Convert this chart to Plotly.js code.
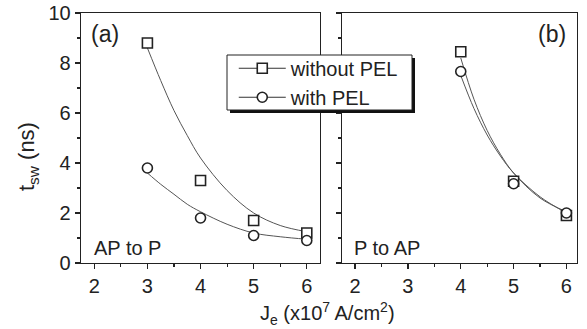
<!DOCTYPE html>
<html><head><meta charset="utf-8">
<script src="https://cdn.plot.ly/plotly-3.0.1.min.js"></script>
<style>html,body{margin:0;padding:0;background:#fff}#chart{width:587px;height:329px}</style>
</head><body><div id="chart"></div>
<script>
// (a) AP to P
const Ja = [3, 4, 5, 6];
const aWithout = [8.8, 3.3, 1.7, 1.2];
const aWith = [3.8, 1.8, 1.1, 0.9];
// fitted curves
const fitXa = [3, 3.25, 3.5, 3.75, 4, 4.5, 5, 5.5, 6];
const fitAWithout = [8.6, 7.3, 6.1, 5.1, 4.2, 2.9, 2.0, 1.5, 1.25];
const fitAWith = [3.6, 3.15, 2.75, 2.35, 2.05, 1.55, 1.2, 1.05, 0.95];
// (b) P to AP
const Jb = [4, 5, 6];
const bWithout = [8.45, 3.27, 1.9];
const bWith = [7.66, 3.17, 2.0];
const fitXb = [4, 4.25, 4.5, 4.75, 5, 5.5, 6];
const fitBWithout = [8.2, 6.55, 5.3, 4.35, 3.6, 2.6, 2.05];
const fitBWith = [7.5, 6.18, 5.12, 4.28, 3.6, 2.65, 2.0];
const legendNames = ['without PEL', 'with PEL'];

const lineC = '#555';
const mk = (sym) => ({symbol: sym, size: 10, color: 'white', line: {color: '#222', width: 1.6}});
const fit = (x, y, xa, ya) => ({x, y, xaxis: xa, yaxis: ya, mode: 'lines', line: {color: lineC, width: 1, shape: 'spline'}, showlegend: false, hoverinfo: 'skip'});
const pts = (x, y, sym, xa, ya) => ({x, y, xaxis: xa, yaxis: ya, mode: 'markers', marker: mk(sym), showlegend: false});

const data = [
  fit(fitXa, fitAWithout, 'x', 'y'),
  fit(fitXa, fitAWith, 'x', 'y'),
  fit(fitXb, fitBWithout, 'x2', 'y2'),
  fit(fitXb, fitBWith, 'x2', 'y2'),
  pts(Ja, aWithout, 'square', 'x', 'y'),
  pts(Ja, aWith, 'circle', 'x', 'y'),
  pts(Jb, bWithout, 'square', 'x2', 'y2'),
  pts(Jb, bWith, 'circle', 'x2', 'y2'),
  {x: [null], y: [null], mode: 'lines+markers', name: legendNames[0], marker: mk('square'), line: {color: '#333', width: 1}},
  {x: [null], y: [null], mode: 'lines+markers', name: legendNames[1], marker: mk('circle'), line: {color: '#333', width: 1}}
];

const tickFont = {family: 'Liberation Sans, Arial, sans-serif', size: 20, color: '#222'};
const xBase = {
  range: [1.75, 6.25], dtick: 1, tick0: 0, ticks: 'outside', ticklen: 5, tickwidth: 1.3, tickcolor: '#222',
  showline: true, linecolor: '#222', linewidth: 1.3, mirror: true, showgrid: false, zeroline: false,
  tickfont: tickFont, anchor: 'y',
  minor: {dtick: 0.5, ticks: 'outside', ticklen: 3, tickwidth: 1.2, tickcolor: '#222', showgrid: false}
};
const yBase = {
  range: [0, 10], dtick: 2, tick0: 0, ticks: 'outside', ticklen: 5, tickwidth: 1.3, tickcolor: '#222',
  showline: true, linecolor: '#222', linewidth: 1.3, mirror: true, showgrid: false, zeroline: false,
  tickfont: tickFont,
  minor: {dtick: 1, ticks: 'outside', ticklen: 3, tickwidth: 1.2, tickcolor: '#222', showgrid: false}
};

const annFont = {family: 'Liberation Sans, Arial, sans-serif', size: 20, color: '#222'};
const layout = {
  width: 587, height: 329,
  margin: {l: 81, r: 10, t: 13, b: 66},
  paper_bgcolor: 'white', plot_bgcolor: 'white',
  xaxis: Object.assign({}, xBase, {domain: [0, 0.482], anchor: 'y'}),
  yaxis: Object.assign({}, yBase, {anchor: 'x'}),
  xaxis2: Object.assign({}, xBase, {domain: [0.526, 1], range: [1.75, 6.2], anchor: 'y2'}),
  yaxis2: Object.assign({}, yBase, {anchor: 'x2', showticklabels: false}),
  showlegend: true,
  legend: {x: 0.308, xanchor: 'left', y: 0.857, yanchor: 'top', bgcolor: 'rgba(0,0,0,0)', borderwidth: 0,
    font: {family: 'Liberation Sans, Arial, sans-serif', size: 20, color: '#222'},
    itemwidth: 47},
  shapes: [
    {type: 'rect', xref: 'paper', yref: 'paper', x0: (230-81)/496, x1: (415-81)/496, y0: (263-113)/250, y1: (263-58)/250,
      fillcolor: '#111', line: {width: 0}, layer: 'above'},
    {type: 'rect', xref: 'paper', yref: 'paper', x0: (227-81)/496, x1: (412-81)/496, y0: (263-110)/250, y1: (263-55)/250,
      fillcolor: 'white', line: {color: '#222', width: 1}, layer: 'above'}
  ],
  annotations: [
    {text: '(a)', xref: 'paper', yref: 'paper', x: (89-81)/496, y: (263-34)/250, xanchor: 'left', yanchor: 'middle', showarrow: false, font: {family: annFont.family, size: 23, color: '#222'}},
    {text: '(b)', xref: 'paper', yref: 'paper', x: (568-81)/496, y: (263-34)/250, xanchor: 'right', yanchor: 'middle', showarrow: false, font: {family: annFont.family, size: 23, color: '#222'}},
    {text: 'AP to P', xref: 'paper', yref: 'paper', x: (92-81)/496, y: (263-248)/250, xanchor: 'left', yanchor: 'middle', showarrow: false, font: annFont},
    {text: 'P to AP', xref: 'paper', yref: 'paper', x: (352-81)/496, y: (263-248)/250, xanchor: 'left', yanchor: 'middle', showarrow: false, font: annFont},
    {text: 'J<sub>e</sub> (x10<sup>7</sup> A/cm<sup>2</sup>)', xref: 'paper', yref: 'paper', x: (327-81)/496, y: (263-313)/250, xanchor: 'center', yanchor: 'middle', showarrow: false, font: annFont},
    {text: 't<sub>sw</sub> (ns)', xref: 'paper', yref: 'paper', x: (28-81)/496, y: (263-157)/250, xanchor: 'center', yanchor: 'middle', textangle: -90, showarrow: false, font: {family: annFont.family, size: 22, color: '#222'}}
  ]
};
Plotly.newPlot('chart', data, layout, {displayModeBar: false, staticPlot: true});
</script></body></html>
